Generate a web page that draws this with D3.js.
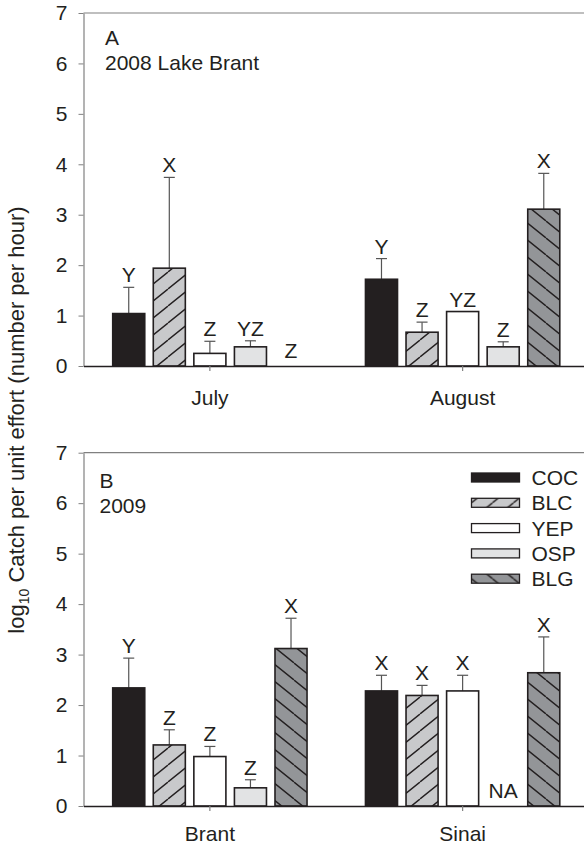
<!DOCTYPE html>
<meta charset="utf-8">
<style>
  body { margin: 0; background: #fff; }
  svg text { font-family: "Liberation Sans", Arial, sans-serif; fill: #231f20; }
</style>
<body>
<script src="https://cdn.jsdelivr.net/npm/d3@7"></script>
<script>

// species (legend order)
var species = ["COC", "BLC", "YEP", "OSP", "BLG"];

// panel A: 2008 Lake Brant
var monthsA = ["July", "August"];
var julyMean = [1.04, 1.94, 0.25, 0.38, null];
var julySE = [0.52, 1.80, 0.24, 0.12, null];
var julyLetters = ["Y", "X", "Z", "YZ", "Z"];
var augustMean = [1.72, 0.67, 1.08, 0.38, 3.11];
var augustSE = [0.41, 0.20, 0, 0.10, 0.71];
var augustLetters = ["Y", "Z", "YZ", "Z", "X"];

// panel B: 2009
var lakesB = ["Brant", "Sinai"];
var brantMean = [2.34, 1.21, 0.98, 0.36, 3.12];
var brantSE = [0.59, 0.30, 0.20, 0.16, 0.60];
var brantLetters = ["Y", "Z", "Z", "Z", "X"];
var sinaiMean = [2.28, 2.19, 2.28, null, 2.64];
var sinaiSE = [0.31, 0.20, 0.31, null, 0.71];
var sinaiLetters = ["X", "X", "X", "NA", "X"];

var yTicks = [0, 1, 2, 3, 4, 5, 6, 7];

var width = 584, height = 846;
var ink = "#231f20", frame = "#808080";

var svg = d3.select("body").append("svg")
    .attr("width", width)
    .attr("height", height);

// hatch patterns
var defs = svg.append("defs");
function hatch(id, bg, forward) {
  var w = 21, h = 17;
  var p = defs.append("pattern")
      .attr("id", id)
      .attr("patternUnits", "userSpaceOnUse")
      .attr("width", w).attr("height", h);
  p.append("rect").attr("width", w).attr("height", h).attr("fill", bg);
  var d = forward
    ? "M0," + h + "L" + w + ",0 M" + (-w) + "," + h + "L0,0 M" + w + "," + h + "L" + (2 * w) + ",0"
    : "M0,0L" + w + "," + h + " M" + (-w) + ",0L0," + h + " M" + w + ",0L" + (2 * w) + "," + h;
  p.append("path").attr("d", d).attr("stroke", ink).attr("stroke-width", 1.4);
}
hatch("hBLC", "#c8c9cb", true);
hatch("hBLG", "#939598", false);

var fills = {
  COC: ink,
  BLC: "url(#hBLC)",
  YEP: "#ffffff",
  OSP: "#e2e3e4",
  BLG: "url(#hBLG)"
};

var xLeft = 83.5, xRight = 589;

function panel(opts) {
  var g = svg.append("g");
  var y = d3.scaleLinear().domain([0, 7]).range([opts.bottom, opts.top]);
  var x = d3.scaleBand().domain(opts.cats).range([xLeft, xRight]);
  var xs = d3.scaleBand().domain(species).range([0, x.bandwidth()])
      .paddingInner(0.21).paddingOuter(0.72);

  // top frame line
  g.append("line")
      .attr("x1", xLeft).attr("x2", width)
      .attr("y1", opts.top).attr("y2", opts.top)
      .attr("stroke", frame).attr("stroke-width", 1.2);

  // y axis
  var ya = g.append("g")
      .attr("transform", "translate(" + xLeft + ",0)")
      .call(d3.axisLeft(y).tickValues(yTicks).tickFormat(d3.format("d"))
        .tickSize(5).tickSizeOuter(0).tickPadding(11));
  ya.select(".domain").attr("stroke", frame).attr("stroke-width", 1.2);
  ya.selectAll(".tick line").attr("stroke", frame);
  ya.selectAll("text").attr("font-size", 21).attr("fill", ink);

  opts.cats.forEach(function(cat, ci) {
    var mean = opts.means[ci], se = opts.ses[ci], letters = opts.letters[ci];
    species.forEach(function(sp, i) {
      var bx = x(cat) + xs(sp), bw = xs.bandwidth(), cx = bx + bw / 2;
      var m = mean[i];
      var top = m == null ? y(0) : y(m + (se[i] || 0));
      if (m != null) {
        if (se[i] > 0) {
          g.append("line")
              .attr("x1", cx).attr("x2", cx)
              .attr("y1", y(m)).attr("y2", y(m + se[i]))
              .attr("stroke", "#555").attr("stroke-width", 1.2);
          g.append("line")
              .attr("x1", cx - 5.5).attr("x2", cx + 5.5)
              .attr("y1", y(m + se[i])).attr("y2", y(m + se[i]))
              .attr("stroke", "#555").attr("stroke-width", 1.2);
        }
        g.append("rect")
            .attr("x", bx).attr("width", bw)
            .attr("y", y(m)).attr("height", y(0) - y(m))
            .attr("fill", fills[sp])
            .attr("stroke", ink).attr("stroke-width", 1.6);
      }
      g.append("text")
          .attr("x", cx)
          .attr("y", m == null ? y(0) - 8 : top - 5)
          .attr("text-anchor", "middle")
          .attr("font-size", 21)
          .text(letters[i]);
    });
  });

  // x axis
  var xa = g.append("g")
      .attr("transform", "translate(0," + opts.bottom + ")")
      .call(d3.axisBottom(x).tickSize(5).tickSizeOuter(0).tickPadding(opts.xPad));
  xa.select(".domain").attr("stroke", ink).attr("stroke-width", 1.3);
  xa.selectAll(".tick line").attr("stroke", frame).attr("stroke-width", 1.2);
  xa.selectAll("text").attr("font-size", 21).attr("fill", ink);

  // panel labels
  opts.labels.forEach(function(t, k) {
    g.append("text")
        .attr("x", opts.labelX)
        .attr("y", opts.top + opts.labelDy + k * 24.5)
        .attr("font-size", 21)
        .text(t);
  });
  return g;
}

panel({
  top: 13, bottom: 366,
  cats: monthsA,
  means: [julyMean, augustMean],
  ses: [julySE, augustSE],
  letters: [julyLetters, augustLetters],
  labels: ["A", "2008 Lake Brant"],
  labelX: 105, labelDy: 32, xPad: 19
});

panel({
  top: 452.7, bottom: 806,
  cats: lakesB,
  means: [brantMean, sinaiMean],
  ses: [brantSE, sinaiSE],
  letters: [brantLetters, sinaiLetters],
  labels: ["B", "2009"],
  labelX: 99.5, labelDy: 35.5, xPad: 15
});

// legend
var legend = svg.append("g").attr("transform", "translate(471.5,477.5)");
species.forEach(function(sp, i) {
  var row = legend.append("g").attr("transform", "translate(0," + (i * 25.3) + ")");
  row.append("rect")
      .attr("x", 0).attr("y", -4.5)
      .attr("width", 48).attr("height", 9)
      .attr("fill", fills[sp])
      .attr("stroke", ink).attr("stroke-width", 1.3);
  row.append("text")
      .attr("x", 60).attr("y", 0).attr("dy", "0.36em")
      .attr("font-size", 21)
      .text(sp);
});

// y axis title
var yt = svg.append("text")
    .attr("transform", "translate(24,420) rotate(-90)")
    .attr("text-anchor", "middle")
    .attr("font-size", 22);
yt.append("tspan").text("log");
yt.append("tspan").attr("font-size", 14).attr("dy", 5).text("10");
yt.append("tspan").attr("dy", -5).text(" Catch per unit effort (number per hour)");

</script>
</body>
